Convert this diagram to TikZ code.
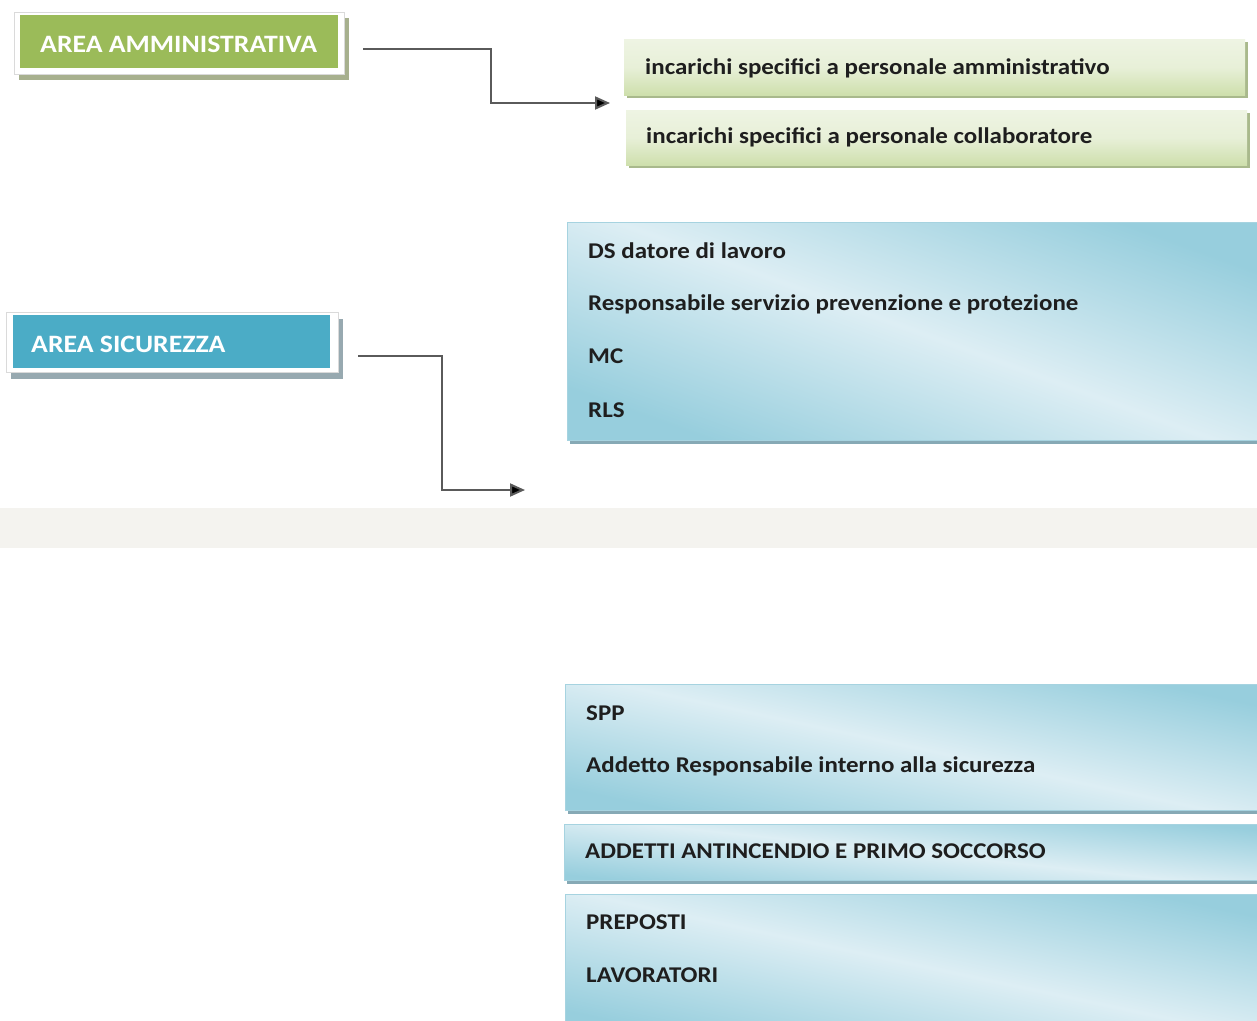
\documentclass[tikz,border=0pt]{standalone}
\usepackage{fontspec}
\setmainfont[FakeStretch=1.11]{Carlito}
\usetikzlibrary{shadows,arrows.meta}
\definecolor{areagreen}{HTML}{9BBB59}
\definecolor{areablue}{HTML}{4BACC6}
\definecolor{bandgray}{HTML}{F4F3EF}
\definecolor{framegray}{HTML}{DADADA}
\definecolor{shgreen}{HTML}{A7B08E}
\definecolor{shblue}{HTML}{97A9B0}
\definecolor{glight}{HTML}{EEF4E3}
\definecolor{gdark}{HTML}{CEDFAC}
\definecolor{bdark}{HTML}{97CEDD}
\definecolor{blight}{HTML}{DDEEF4}
\definecolor{bborder}{HTML}{A6D3E0}
\definecolor{bshadow}{HTML}{86A9B5}
\definecolor{gshadow}{HTML}{A9B98C}
\definecolor{conncol}{HTML}{5A5A5A}
\definecolor{txt}{HTML}{1E1E1E}
\tikzset{
  areaframe/.style={anchor=north west, fill=white, draw=framegray, line width=1pt, inner sep=0pt},
  areainner/.style={anchor=north west, inner sep=0pt},
  arealabel/.style={anchor=base west, inner sep=0pt, text=white, font=\bfseries\fontsize{25}{30}\selectfont},
  greenbox/.style={anchor=north west, inner sep=0pt, top color=glight, bottom color=gdark, middle color=glight!80!gdark,
     general shadow={fill=gshadow, shadow xshift=3pt, shadow yshift=-3pt}},
  bluebox/.style={anchor=north west, inner sep=0pt, draw=bborder, line width=0.8pt,
     top color=bdark, bottom color=bdark, middle color=blight, shading angle=#1,
     general shadow={fill=bshadow, shadow xshift=3pt, shadow yshift=-4pt}},
  itemlabel/.style={anchor=base west, inner sep=0pt, text=txt, font=\bfseries\fontsize{22.5}{27}\selectfont},
  conn/.style={draw=conncol, line width=2pt, -{Triangle[length=15pt,width=13pt,fill=black]}},
}
\begin{document}
\begin{tikzpicture}[x=1pt,y=-1pt]
\clip (0,0) rectangle (1257,1020);
\fill[white] (0,0) rectangle (1257,1020);
\fill[bandgray] (0,508) rectangle (1257,548);

% AREA AMMINISTRATIVA
\node[areaframe, minimum width=330pt, minimum height=62pt,
      general shadow={fill=shgreen, shadow xshift=4pt, shadow yshift=-5pt}] (admframe) at (14,12) {};
\node[areainner, fill=areagreen, minimum width=318pt, minimum height=53pt] (admbox) at (20,15) {};
\node[arealabel] (admtext) at (40,52) {AREA AMMINISTRATIVA};

% green boxes
\node[greenbox, minimum width=621pt, minimum height=56pt] (g1) at (624,39) {};
\node[itemlabel] (g1t) at (645,74) {incarichi specifici a personale amministrativo};
\node[greenbox, minimum width=621pt, minimum height=55pt] (g2) at (626,110) {};
\node[itemlabel] (g2t) at (646,143) {incarichi specifici a personale collaboratore};

% connector 1
\coordinate (c1s) at (363,49);
\coordinate (c1k) at (491,75);
\coordinate (c1e) at (610,103);
\draw[conn] (c1s) -| (c1k) |- (c1e);

% AREA SICUREZZA
\node[areaframe, minimum width=332pt, minimum height=60pt,
      general shadow={fill=shblue, shadow xshift=4pt, shadow yshift=-6pt}] (sicframe) at (6,312) {};
\node[areainner, fill=areablue, minimum width=317pt, minimum height=53pt] (sicbox) at (13,315) {};
\node[arealabel] (sictext) at (31,352) {AREA SICUREZZA};

% connector 2
\coordinate (c2s) at (358,356);
\coordinate (c2k) at (442,420);
\coordinate (c2e) at (525,490);
\draw[conn] (c2s) -| (c2k) |- (c2e);

% blue box 1
\node[bluebox=-20, minimum width=700pt, minimum height=218pt] (b1) at (567,222) {};
\node[itemlabel] (b1a) at (588,258) {DS datore di lavoro};
\node[itemlabel] (b1b) at (588,310) {Responsabile servizio prevenzione e protezione};
\node[itemlabel] (b1c) at (588,363) {MC};
\node[itemlabel] (b1d) at (588,417) {RLS};

% blue box 2
\node[bluebox=-12, minimum width=700pt, minimum height=126pt] (b2) at (565,684) {};
\node[itemlabel] (b2a) at (586,720) {SPP};
\node[itemlabel] (b2b) at (586,772) {Addetto Responsabile interno alla sicurezza};

% blue box 3
\node[bluebox=-6, minimum width=700pt, minimum height=56pt] (b3) at (564,824) {};
\node[itemlabel] (b3a) at (585,858) {ADDETTI ANTINCENDIO E PRIMO SOCCORSO};

% blue box 4
\node[bluebox=-12, minimum width=700pt, minimum height=140pt] (b4) at (565,894) {};
\node[itemlabel] (b4a) at (586,929) {PREPOSTI};
\node[itemlabel] (b4b) at (586,982) {LAVORATORI};
\end{tikzpicture}
\end{document}
